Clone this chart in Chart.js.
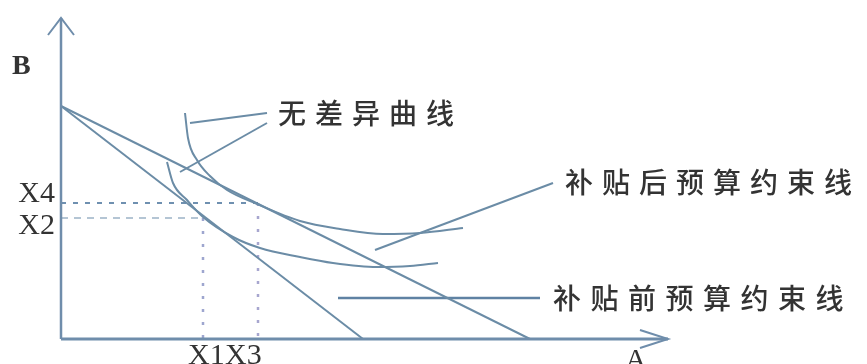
<!DOCTYPE html>
<html>
<head>
<meta charset="utf-8">
<script src="https://cdn.jsdelivr.net/npm/chart.js@4/dist/chart.umd.min.js"></script>
<style>
  html, body { margin: 0; padding: 0; background: #ffffff; }
  #wrap { width: 867px; height: 364px; position: relative; }
</style>
</head>
<body>
<div id="wrap"><canvas id="c"></canvas></div>
<script>
// ---- data (chart units: A on x, B on y) ----
const budgetB = 233;            // B intercept shared by both budget lines
const beforeA = 302;            // A intercept before subsidy
const afterA = 469;             // A intercept after subsidy
const pointX1 = 142, pointX2 = 121;   // optimum before subsidy
const pointX3 = 197, pointX4 = 136;   // optimum after subsidy
const tickLabelsX = ['X1', 'X3'];
const tickLabelsY = ['X4', 'X2'];
const axisNames = ['A', 'B'];

// indifference curves
const lowerCurveX = [106, 112, 126, 142, 172, 199, 239, 272, 316, 349, 377];
const lowerCurveY = [177, 156, 139, 122, 102, 91, 82, 76, 72, 73, 76];
const upperCurveX = [124, 127, 136, 149, 166, 196, 239, 279, 322, 359, 402];
const upperCurveY = [226, 201, 179, 163, 149, 135, 118, 110, 105, 106, 111];

// annotation texts and their leader lines
const labelCurves = '无差异曲线';
const labelAfter = '补贴后预算约束线';
const labelBefore = '补贴前预算约束线';
const leaderCurves1 = [[206, 226], [129, 216]];
const leaderCurves2 = [[206, 216], [119, 167]];
const leaderAfter = [[492, 156], [314, 89]];
const leaderBefore = [[277, 41], [479, 41]];

// axes extents
const axisYTop = 321, axisXEnd = 607;

// ---- build ----
const pts = (xs, ys) => xs.map((x, i) => ({ x, y: ys[i] }));
const seg = (arr) => arr.map(p => ({ x: p[0], y: p[1] }));

const lineCol = '#6b8ca6';
const axisCol = '#6f8dab';

function lineDs(data, opts) {
  return Object.assign({
    data, showLine: true, pointRadius: 0, borderColor: lineCol,
    borderWidth: 2, fill: false, tension: 0
  }, opts || {});
}

const datasets = [
  // axes
  lineDs(seg([[0, 0], [0, axisYTop]]), { borderColor: axisCol, borderWidth: 2.5 }),
  lineDs(seg([[-13, axisYTop - 17], [0, axisYTop], [13, axisYTop - 17]]), { borderColor: axisCol, borderWidth: 2 }),
  lineDs(seg([[0, 0], [axisXEnd, 0]]), { borderColor: axisCol, borderWidth: 3 }),
  lineDs(seg([[axisXEnd - 28, 9], [axisXEnd, 0], [axisXEnd - 28, -9]]), { borderColor: axisCol, borderWidth: 2 }),
  // budget lines
  lineDs([{ x: 0, y: budgetB }, { x: beforeA, y: 0 }]),
  lineDs([{ x: 0, y: budgetB }, { x: afterA, y: 0 }]),
  // indifference curves
  lineDs(pts(lowerCurveX, lowerCurveY), { cubicInterpolationMode: 'monotone' }),
  lineDs(pts(upperCurveX, upperCurveY), { cubicInterpolationMode: 'monotone' }),
  // guide lines
  lineDs([{ x: 0, y: pointX4 }, { x: pointX3, y: pointX4 }], { borderColor: '#6f90b0', borderDash: [5, 7], borderWidth: 2 }),
  lineDs([{ x: 0, y: pointX2 }, { x: pointX1, y: pointX2 }], { borderColor: '#9cb2c6', borderDash: [7, 6], borderWidth: 1.5 }),
  lineDs([{ x: pointX1, y: pointX2 }, { x: pointX1, y: 0 }], { borderColor: '#9ea6cf', borderDash: [3, 10], borderWidth: 2.5 }),
  lineDs([{ x: pointX3, y: pointX4 }, { x: pointX3, y: 0 }], { borderColor: '#a7a6cf', borderDash: [3, 10], borderWidth: 2.5 }),
  // leaders
  lineDs(seg(leaderCurves1), { borderWidth: 2 }),
  lineDs(seg(leaderCurves2), { borderWidth: 2 }),
  lineDs(seg(leaderAfter), { borderWidth: 2 }),
  lineDs(seg(leaderBefore), { borderWidth: 2.5, borderColor: '#5f82a3' })
];

// text placement (chart units) — layout only
const textLayout = {
  curves: { x: 217, y: 226, pitch: 37 },
  after: { x: 504, y: 157, pitch: 37 },
  before: { x: 492, y: 41, pitch: 37.5 }
};

const textPlugin = {
  id: 'texts',
  afterDatasetsDraw(chart) {
    const ctx = chart.ctx;
    const sx = chart.scales.x, sy = chart.scales.y;
    const px = v => sx.getPixelForValue(v);
    const py = v => sy.getPixelForValue(v);
    ctx.save();
    ctx.fillStyle = '#333333';

    // Latin labels
    ctx.font = '30px "Liberation Serif", "Times New Roman", serif';
    ctx.textBaseline = 'alphabetic';
    ctx.textAlign = 'right';
    ctx.fillText(tickLabelsY[0], px(-6), py(pointX4 + 1));
    ctx.fillText(tickLabelsY[1], px(-6), py(pointX2 - 16));
    ctx.textAlign = 'left';
    ctx.textBaseline = 'top';
    ctx.fillText(tickLabelsX[0], px(pointX1 - 15), py(0) + 2);
    ctx.fillText(tickLabelsX[1], px(pointX3 - 33), py(0) + 2);
    ctx.fillText(axisNames[0], px(axisXEnd - 43), py(0) + 7);
    ctx.textBaseline = 'alphabetic';
    ctx.font = 'bold 28px "Liberation Serif", "Times New Roman", serif';
    ctx.fillText(axisNames[1], px(-49), py(265));

    // Chinese labels, drawn glyph by glyph for the wide spacing
    ctx.font = '500 28px "Noto Sans CJK SC", sans-serif';
    ctx.textBaseline = 'middle';
    ctx.textAlign = 'left';
    const drawSpaced = (s, l) => {
      [...s].forEach((ch, i) => ctx.fillText(ch, px(l.x) + i * l.pitch, py(l.y)));
    };
    drawSpaced(labelCurves, textLayout.curves);
    drawSpaced(labelAfter, textLayout.after);
    drawSpaced(labelBefore, textLayout.before);
    ctx.restore();
  }
};

new Chart(document.getElementById('c'), {
  type: 'scatter',
  data: { datasets },
  options: {
    responsive: true,
    maintainAspectRatio: false,
    animation: false,
    layout: { padding: 0 },
    plugins: { legend: { display: false }, tooltip: { enabled: false } },
    scales: {
      x: { type: 'linear', min: -61, max: 806, display: false },
      y: { type: 'linear', min: -25, max: 339, display: false }
    }
  },
  plugins: [textPlugin]
});
</script>
</body>
</html>
